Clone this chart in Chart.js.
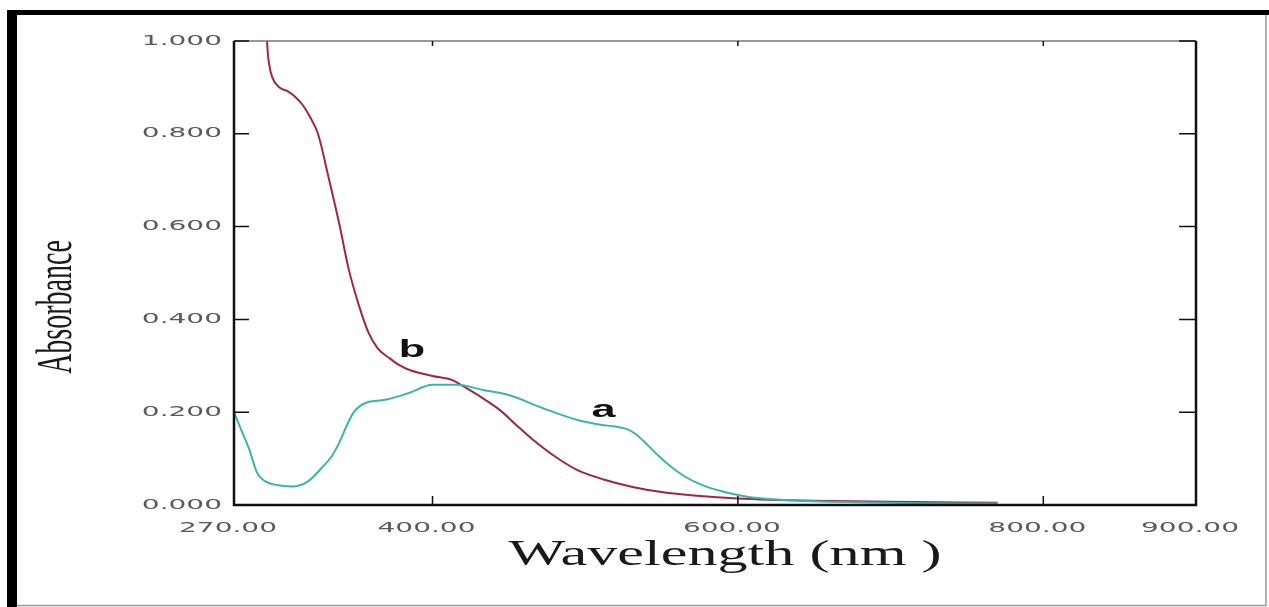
<!DOCTYPE html>
<html>
<head>
<meta charset="utf-8">
<script src="https://cdn.jsdelivr.net/npm/chart.js@4.4.0/dist/chart.umd.min.js"></script>
<style>
  html, body { margin: 0; padding: 0; background: #fff; }
  #wrap { width: 1269px; height: 607px; }
</style>
</head>
<body>
<div id="wrap"><canvas id="myChart" width="1269" height="607"></canvas></div>
<script>
// spectrum a (cyan)
const waveA = [270, 275, 280, 285, 290, 298, 308, 318, 328, 334, 339, 344, 348, 352, 357, 365, 372, 385, 400, 416, 433, 451, 472, 495, 510, 520, 527, 533, 540, 548, 556, 565, 575, 590, 606, 625, 650, 680, 720, 770];
const absA  = [0.200, 0.160, 0.120, 0.070, 0.052, 0.043, 0.040, 0.050, 0.082, 0.105, 0.135, 0.172, 0.198, 0.212, 0.221, 0.225, 0.229, 0.242, 0.259, 0.259, 0.248, 0.236, 0.209, 0.183, 0.173, 0.169, 0.164, 0.153, 0.132, 0.106, 0.083, 0.062, 0.045, 0.029, 0.018, 0.012, 0.008, 0.006, 0.004, 0.003];
// spectrum b (red)
const waveB = [290, 291, 292, 293, 295, 300, 305, 310, 315, 320, 325, 332, 339, 345, 352, 358, 364, 372, 378, 385, 400, 413, 420, 432, 444, 455, 466, 480, 495, 512, 531, 550, 573, 600, 650, 700, 770];
const absB  = [1.150, 1.050, 0.980, 0.950, 0.922, 0.899, 0.892, 0.880, 0.862, 0.835, 0.800, 0.705, 0.605, 0.510, 0.428, 0.372, 0.338, 0.316, 0.302, 0.291, 0.278, 0.269, 0.256, 0.232, 0.205, 0.172, 0.140, 0.105, 0.075, 0.055, 0.039, 0.028, 0.020, 0.014, 0.009, 0.007, 0.005];

const xTicks = [270, 400, 600, 800, 900];
const yTicks = [0, 0.2, 0.4, 0.6, 0.8, 1.0];
const xTitle = 'Wavelength (nm )';
const yTitle = 'Absorbance';
const curveLabels = [{ text: 'b', x: 386.5, y: 0.32 }, { text: 'a', x: 512, y: 0.19 }];

const toPts = (xs, ys) => xs.map((x, i) => ({ x: x, y: ys[i] }));

// draws text squeezed/stretched sideways like the scanned figure
function wideText(ctx, txt, x, y, sx, align) {
  ctx.save();
  ctx.translate(x, y);
  ctx.scale(sx, 1);
  ctx.textAlign = align;
  ctx.fillText(txt, 0, 0);
  ctx.restore();
}

const framePlugin = {
  id: 'frame',
  beforeDraw(chart) {
    const ctx = chart.ctx;
    ctx.save();
    ctx.fillStyle = '#fff';
    ctx.fillRect(0, 0, chart.width, chart.height);
    // outer border of the figure
    ctx.fillStyle = '#000';
    ctx.fillRect(7, 10, 10, 597);
    ctx.fillRect(7, 10, 1262, 5);
    ctx.strokeStyle = '#999';
    ctx.lineWidth = 1.5;
    ctx.beginPath();
    ctx.moveTo(1266, 15); ctx.lineTo(1266, 605.5); ctx.lineTo(17, 605.5);
    ctx.stroke();
    ctx.restore();
  },
  afterDatasetsDraw(chart) {
    const ctx = chart.ctx;
    const xs = chart.scales.x, ys = chart.scales.y;
    const a = chart.chartArea;
    ctx.save();
    // plot box
    ctx.strokeStyle = '#777';
    ctx.lineWidth = 1.5;
    ctx.beginPath(); ctx.moveTo(a.left, a.top); ctx.lineTo(a.right, a.top); ctx.stroke();
    ctx.strokeStyle = '#111';
    ctx.lineWidth = 2.5;
    ctx.beginPath();
    ctx.moveTo(a.left, a.top); ctx.lineTo(a.left, a.bottom); ctx.lineTo(a.right, a.bottom); ctx.lineTo(a.right, a.top);
    ctx.stroke();
    // inward ticks
    ctx.lineWidth = 1.5;
    ctx.beginPath();
    yTicks.forEach(v => {
      const p = ys.getPixelForValue(v);
      ctx.moveTo(a.left, p); ctx.lineTo(a.left + 15, p);
      ctx.moveTo(a.right, p); ctx.lineTo(a.right - 17, p);
    });
    xTicks.slice(1, -1).forEach(v => {
      const p = xs.getPixelForValue(v);
      ctx.moveTo(p, a.bottom); ctx.lineTo(p, a.bottom - 9);
      ctx.moveTo(p, a.top); ctx.lineTo(p, a.top + 5);
    });
    ctx.stroke();

    // tick labels
    ctx.fillStyle = '#5a5a5a';
    ctx.font = '14px "DejaVu Sans"';
    ctx.textBaseline = 'middle';
    yTicks.forEach(v => wideText(ctx, v.toFixed(3), a.left - 12, ys.getPixelForValue(v), 2.0, 'right'));
    xTicks.forEach(v => wideText(ctx, v.toFixed(2), xs.getPixelForValue(v) - 6, a.bottom + 23, 2.0, 'center'));

    // axis titles
    ctx.fillStyle = '#1a1a1a';
    ctx.font = '35px "Liberation Serif"';
    ctx.textBaseline = 'alphabetic';
    wideText(ctx, xTitle, 725, 565, 1.72, 'center');
    ctx.save();
    ctx.translate(58, 307);
    ctx.rotate(-Math.PI / 2);
    ctx.scale(1, 1.8);
    ctx.font = '28px "Liberation Serif"';
    ctx.textAlign = 'center';
    ctx.textBaseline = 'middle';
    ctx.fillText(yTitle, 0, 0);
    ctx.restore();

    // curve labels
    ctx.fillStyle = '#111';
    ctx.font = 'bold 24px "Liberation Sans"';
    ctx.textBaseline = 'alphabetic';
    curveLabels.forEach(l => wideText(ctx, l.text, xs.getPixelForValue(l.x), ys.getPixelForValue(l.y), 1.8, 'center'));
    ctx.restore();
  }
};

const ctx = document.getElementById('myChart').getContext('2d');
let myChart = new Chart(ctx, {
  type: 'line',
  data: {
    datasets: [
      { label: 'a', data: toPts(waveA, absA), borderColor: '#38b6ae', borderWidth: 2, pointRadius: 0, cubicInterpolationMode: 'monotone' },
      { label: 'b', data: toPts(waveB, absB), borderColor: '#a3263a', borderWidth: 2, pointRadius: 0, cubicInterpolationMode: 'monotone' }
    ]
  },
  options: {
    responsive: false,
    animation: false,
    layout: { padding: { top: 41, right: 73, left: 0, bottom: 0 } },
    plugins: { legend: { display: false }, tooltip: { enabled: false } },
    scales: {
      x: {
        type: 'linear', min: 270, max: 900,
        grid: { display: false }, border: { display: false },
        ticks: { display: false },
        afterFit: s => { s.height = 102; }
      },
      y: {
        min: 0, max: 1,
        grid: { display: false }, border: { display: false },
        ticks: { display: false, stepSize: 0.2 },
        afterFit: s => { s.width = 234; }
      }
    }
  },
  plugins: [framePlugin]
});
</script>
</body>
</html>
